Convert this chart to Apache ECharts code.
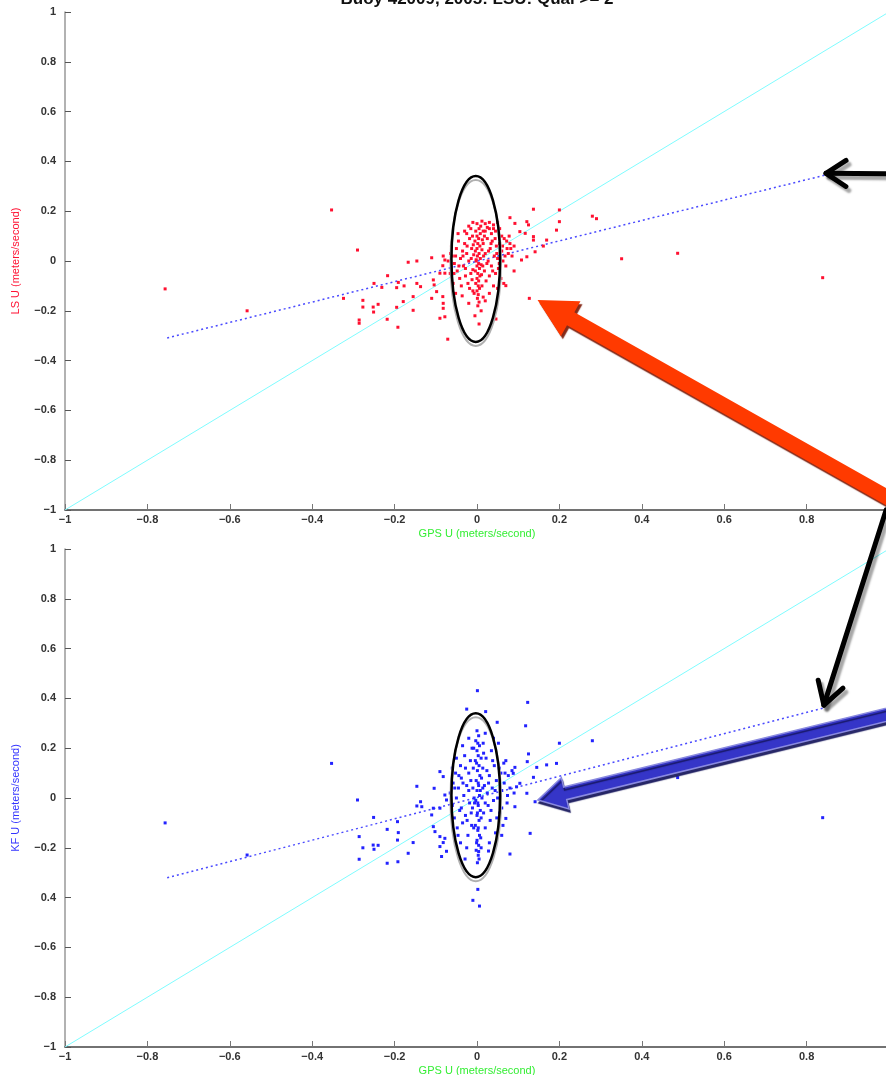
<!DOCTYPE html>
<html>
<head>
<meta charset="utf-8">
<script src="https://cdn.jsdelivr.net/npm/echarts@6/dist/echarts.min.js"></script>
<style>
  html, body { margin: 0; padding: 0; background: #fff; }
  #chart { width: 886px; height: 1075px; }
</style>
</head>
<body>
<div id="chart"></div>
<script>
// titles / labels
var titleText = 'Buoy 42009, 2005: LSU: Qual >= 2';
var xName = 'GPS U (meters/second)';
var lsName = 'LS U (meters/second)';
var kfName = 'KF U (meters/second)';

// tick labels (bottom panel really shows "0.4" at -0.4)
var xTickLabels = ['\u22121', '\u22120.8', '\u22120.6', '\u22120.4', '\u22120.2', '0', '0.2', '0.4', '0.6', '0.8', '1'];
var lsTickLabels = ['\u22121', '\u22120.8', '\u22120.6', '\u22120.4', '\u22120.2', '0', '0.2', '0.4', '0.6', '0.8', '1'];
var kfTickLabels = ['\u22121', '\u22120.8', '\u22120.6', '0.4', '\u22120.2', '0', '0.2', '0.4', '0.6', '0.8', '1'];

// reference line y = x and fitted lines
var unityLine = [[-1, -1], [1, 1]];
var lsFit = [[-0.752, -0.309], [0.845, 0.345]];
var kfFit = [[-0.752, -0.32], [0.842, 0.362]];

// LS points, scattered part
var lsOutliers = [
  [-0.757,-0.112],[-0.558,-0.2],[-0.353,0.205],[-0.29,0.044],[-0.324,-0.15],[-0.277,-0.158],[-0.277,-0.185],
  [-0.252,-0.185],[-0.24,-0.174],[-0.251,-0.205],[-0.286,-0.237],[-0.286,-0.25],[-0.25,-0.09],[-0.231,-0.106],
  [-0.217,-0.059],[-0.218,-0.234],[-0.192,-0.266],[-0.195,-0.186],[-0.191,-0.086],[-0.195,-0.107],[-0.179,-0.163],
  [-0.177,-0.1],[-0.167,-0.005],[-0.155,-0.143],[-0.155,-0.198],[-0.146,0],[-0.146,-0.09],[-0.137,-0.103],
  [-0.11,0.013],[-0.106,-0.076],[-0.104,-0.096],[-0.11,-0.15],[-0.098,-0.123],[-0.083,-0.143],[-0.082,-0.17],
  [-0.082,-0.19],[-0.09,-0.23],[-0.078,-0.224],[-0.082,0.02],[-0.078,0.004],[-0.083,-0.019],[-0.078,-0.049],
  [-0.09,-0.049],[-0.071,-0.314],[0.005,-0.253],[0.046,-0.233],[0.127,-0.15],[0.07,-0.099],[0.09,-0.04],
  [0.137,0.208],[0.08,0.174],[0.092,0.151],[0.121,0.158],[0.125,0.145],[0.104,0.118],[0.117,0.111],
  [0.137,0.098],[0.137,0.084],[0.141,0.037],[0.121,0.017],[0.108,0.004],[0.161,0.06],[0.169,0.084],
  [0.193,0.124],[0.2,0.158],[0.2,0.205],[0.28,0.18],[0.29,0.17],[0.351,0.009],[0.487,0.031],[0.839,-0.067]
];
// LS points, dense core near zero
var lsCore = [
  [0,0.15],[0.005,0.13],[-0.003,0.12],[0.008,0.11],[0,0.1],[0.004,0.09],[-0.005,0.08],[0.002,0.07],
  [0.007,0.06],[0,0.05],[-0.004,0.04],[0.005,0.03],[0.001,0.02],[0.008,0.01],[-0.002,0],[0.004,-0.01],
  [0,-0.02],[0.006,-0.03],[-0.004,-0.04],[0.002,-0.05],[0.007,-0.06],[0,-0.07],[0.004,-0.08],[-0.003,-0.09],
  [0.003,-0.1],[0.006,-0.11],[0,-0.12],[0.003,-0.135],[0.001,-0.15],[0.005,-0.165],[0.002,-0.18],[-0.002,0.005],
  [0.01,-0.015],[-0.008,0.025],[0.012,0.045],[-0.01,-0.035],[0.011,-0.055],[-0.009,0.065],[0.013,0.085],[-0.012,-0.075],
  [-0.01,0.155],[0.012,0.16],[0.02,0.15],[0.03,0.155],[0.04,0.145],[0.05,0.155],[0.025,0.135],[0.045,0.12],
  [0.055,0.13],[-0.02,0.14],[0.035,0.11],[0.06,0.1],[-0.025,0.11],
  [-0.06,0.02],[-0.055,-0.01],[-0.05,0.05],[-0.048,-0.04],[-0.045,0.08],[-0.042,-0.07],[-0.04,0.01],[-0.038,-0.1],
  [-0.035,0.04],[-0.033,-0.02],[-0.03,0.07],[-0.028,-0.06],[-0.025,0.03],[-0.022,-0.09],[-0.02,0],[-0.018,0.09],
  [-0.015,-0.05],[-0.013,0.05],[-0.01,-0.12],[0.015,0.07],[0.018,-0.04],[0.02,0.03],[0.022,-0.08],[0.025,0.09],
  [0.027,0],[0.03,-0.06],[0.032,0.05],[0.035,-0.02],[0.037,0.08],[0.04,-0.1],[0.042,0.02],[0.045,-0.05],
  [0.047,0.06],[0.05,0.01],[0.052,-0.03],[0.055,0.07],[0.058,-0.07],[0.06,0.04],[0.063,0],[0.066,0.09],
  [0.07,-0.02],[0.073,0.05],[0.076,0.03],[0.08,0.07],[0.085,0.02],[0.09,0.06],[-0.065,-0.05],[-0.07,0],
  [-0.062,0.06],[-0.058,-0.09],[-0.052,-0.13],[-0.046,0.11],[-0.036,-0.14],[-0.03,0.12],[0.03,-0.13],[0.05,-0.11],
  [0.065,-0.09],[0.02,-0.16],[-0.02,-0.17],[0.01,-0.2],[-0.005,-0.22],[0.015,0.12],[-0.015,0.13],
  [0.016,0.02],[0.014,-0.02],[-0.014,0.01],[0.018,0.1],[-0.018,-0.11],[0.024,-0.01],[-0.024,0.06],[0.028,0.04],
  [-0.028,-0.03],[0.034,0.07],[-0.034,0.02],[0.038,-0.04],[0.044,0.09],[-0.044,-0.02],[0.048,0.03],[0.054,-0.01],
  [0.062,0.06],[0.068,0.02],[0.072,0.08],[0.078,0.1],[0.082,0.05],[-0.052,0.02],[-0.056,-0.05],[-0.064,0.03],
  [0.009,0.14],[-0.007,-0.13],[0.012,-0.1],[-0.011,0.1],[0.015,-0.145],[0.02,0.12],[0.03,0.13],[0.04,0.13]
];

// KF points, scattered part
var kfOutliers = [
  [-0.757,-0.1],[-0.558,-0.229],[-0.353,0.139],[-0.29,-0.008],[-0.251,-0.078],[-0.286,-0.155],[-0.277,-0.2],
  [-0.286,-0.246],[-0.252,-0.189],[-0.24,-0.19],[-0.25,-0.206],[-0.218,-0.262],[-0.192,-0.256],[-0.218,-0.126],
  [-0.191,-0.139],[-0.193,-0.169],[-0.167,-0.222],[-0.155,-0.179],[-0.193,-0.095],[-0.146,0.047],[-0.137,-0.015],
  [-0.134,-0.035],[-0.146,-0.032],[-0.104,0.039],[-0.106,-0.041],[-0.11,-0.068],[-0.106,-0.115],[-0.102,-0.135],
  [-0.09,-0.195],[-0.086,-0.235],[-0.074,-0.214],[-0.082,-0.179],[-0.078,-0.162],[-0.09,-0.155],[-0.09,0.106],
  [-0.082,0.086],[-0.078,0.012],[-0.074,-0.008],[-0.09,-0.041],[0.001,0.431],[-0.025,0.357],[0.021,0.347],
  [0.049,0.304],[0.123,0.384],[0.118,0.29],[0.002,-0.367],[-0.01,-0.411],[0.006,-0.434],[-0.029,-0.245],
  [0.005,-0.245],[0.028,-0.213],[0.08,-0.225],[0.129,-0.142],[0.07,-0.082],[0.125,0.177],[0.122,0.146],
  [0.137,0.083],[0.145,0.123],[0.169,0.133],[0.193,0.139],[0.2,0.22],[0.092,0.123],[0.088,0.099],
  [0.096,0.045],[0.121,0.019],[0.141,-0.015],[0.092,-0.035],[0.104,0.059],[0.28,0.23],[0.487,0.082],[0.839,-0.079]
];
// KF points, dense core near zero
var kfCore = [
  [0,0.27],[0.004,0.25],[-0.003,0.23],[0.006,0.21],[0,0.19],[0.003,0.17],[-0.004,0.15],[0.005,0.13],
  [0.001,0.11],[0.007,0.09],[-0.002,0.07],[0.004,0.05],[0,0.03],[0.006,0.01],[-0.003,-0.01],[0.003,-0.03],
  [0.008,-0.05],[0,-0.07],[0.005,-0.09],[-0.004,-0.11],[0.002,-0.13],[0.006,-0.15],[0,-0.17],[0.004,-0.19],
  [-0.002,-0.21],[0.003,-0.23],[0.001,-0.26],[-0.008,0.2],[0.01,0.16],[-0.009,0.12],[0.011,0.08],[-0.01,0.04],
  [0.012,0],[-0.011,-0.04],[0.01,-0.08],[-0.008,-0.12],[0.009,-0.16],[-0.007,0],[0.008,0.03],[-0.006,-0.02],
  [-0.065,0.02],[-0.06,-0.03],[-0.058,0.06],[-0.055,-0.08],[-0.052,0.1],[-0.05,0],[-0.048,-0.12],[-0.045,0.04],
  [-0.042,-0.05],[-0.04,0.13],[-0.038,0.08],[-0.035,-0.1],[-0.032,0.01],[-0.03,0.17],[-0.028,-0.07],[-0.025,0.05],
  [-0.022,-0.15],[-0.02,0.1],[-0.018,-0.02],[-0.015,0.07],[-0.013,-0.11],[-0.012,0.2],[0.014,0.12],[0.016,-0.06],
  [0.018,0.05],[0.02,-0.12],[0.022,0.16],[0.025,0.02],[0.027,-0.03],[0.03,0.09],[0.032,-0.09],[0.035,0.19],
  [0.037,0.04],[0.04,-0.01],[0.042,0.13],[0.045,-0.14],[0.047,0.07],[0.05,0],[0.052,0.22],[0.055,-0.06],
  [0.058,0.1],[0.06,0.03],[0.063,-0.11],[0.066,0.06],[0.07,0.15],[0.073,-0.02],[0.076,0.09],[0.08,0.04],
  [0.085,0.11],[0.09,0.02],[-0.04,-0.18],[0.03,-0.18],[-0.02,0.24],[0.02,0.26],[0.04,0.24],[-0.05,0.16],
  [0.06,-0.15],[-0.06,0.12],[0.065,0.14],[-0.035,0.21],[0.015,0.22],[-0.025,-0.2],[0.01,-0.2],
  [0.002,0.22],[-0.001,0.14],[0.003,0.06],[0.002,-0.02],[0.001,-0.06],[0.003,-0.12],[-0.001,-0.18],[0.004,-0.215],
  [0.014,0.04],[-0.014,-0.06],[0.016,0.18],[-0.016,0.15],[0.02,-0.02],[-0.02,0.03],[0.024,0.11],[-0.024,-0.09],
  [0.028,0.06],[-0.028,0.12],[0.034,-0.05],[-0.034,0.06],[0.038,0.15],[-0.038,-0.04],[0.044,0.03],[-0.044,0.09],
  [0.048,-0.08],[0.054,0.12],[-0.054,0.04],[0.06,-0.04],[0.068,0.1],[0.074,0.01],[-0.062,-0.07],[-0.046,-0.15]
];

// hand-drawn annotations in data units: ellipse [cx, cy, rx, ry], arrows [tip, tail]
var lsEllipse = [-0.003, 0.008, 0.059, 0.333];
var kfEllipse = [-0.003, 0.011, 0.059, 0.329];
var blackArrowTop = [[0.847, 0.352], [1.04, 0.35]];
var redArrow = [[0.147, -0.157], [1.04, -0.99]];
var blackArrowBottom = [[0.842, 0.373], [0.993, 1.157]];
var blueArrow = [[0.148, -0.008], [1.04, 0.353]];

var myChart = echarts.init(document.getElementById('chart'));
var font = 'Liberation Sans, Arial, sans-serif';

function xAxisFor(idx) {
  return {
    type: 'value', gridIndex: idx, min: -1, max: 1, interval: 0.2,
    name: xName, nameLocation: 'middle', nameGap: 18,
    nameTextStyle: { color: '#33ee33', fontSize: 11, fontFamily: font },
    axisLine: { show: true, onZero: false, lineStyle: { color: '#444', width: 1.5 } },
    axisTick: { show: true, inside: true, length: 6, lineStyle: { color: '#777' } },
    axisLabel: {
      color: '#333', fontSize: 11, fontWeight: 'bold', fontFamily: font, margin: 4,
      formatter: function (v) { return xTickLabels[Math.round((v + 1) / 0.2)]; }
    },
    splitLine: { show: false }
  };
}
function yAxisFor(idx, name, nameColor, labels) {
  return {
    type: 'value', gridIndex: idx, min: -1, max: 1, interval: 0.2,
    name: name, nameLocation: 'middle', nameGap: 44, nameRotate: 90,
    nameTextStyle: { color: nameColor, fontSize: 11, fontFamily: font },
    axisLine: { show: true, onZero: false, lineStyle: { color: '#999', width: 1.5 } },
    axisTick: { show: true, inside: true, length: 6, lineStyle: { color: '#555' } },
    axisLabel: {
      color: '#333', fontSize: 11, fontWeight: 'bold', fontFamily: font, margin: 9,
      formatter: function (v) { return labels[Math.round((v + 1) / 0.2)]; }
    },
    splitLine: { show: false }
  };
}
function pts(idx, data, color) {
  return {
    type: 'scatter', xAxisIndex: idx, yAxisIndex: idx, data: data,
    symbol: 'rect', symbolSize: 3, itemStyle: { color: color, opacity: 1 }, silent: true, z: 3
  };
}
function line(idx, data, color, type, width) {
  return {
    type: 'line', xAxisIndex: idx, yAxisIndex: idx, data: data, symbol: 'none',
    lineStyle: { color: color, type: type, width: width }, silent: true, z: 2
  };
}

myChart.setOption({
  animation: false,
  backgroundColor: '#fff',
  grid: [
    { left: 65, top: 12, width: 824, height: 498, outerBoundsMode: 'none', containLabel: false },
    { left: 65, top: 549, width: 824, height: 498, outerBoundsMode: 'none', containLabel: false }
  ],
  xAxis: [xAxisFor(0), xAxisFor(1)],
  yAxis: [yAxisFor(0, lsName, '#ff1133', lsTickLabels), yAxisFor(1, kfName, '#3333ff', kfTickLabels)],
  series: [
    line(0, unityLine, '#7ffcff', 'solid', 1),
    line(0, lsFit, '#4a4aff', [2, 3], 1.5),
    pts(0, lsOutliers, '#ff1030'),
    pts(0, lsCore, '#ff1030'),
    line(1, unityLine, '#7ffcff', 'solid', 1),
    line(1, kfFit, '#4a4aff', [2, 3], 1.5),
    pts(1, kfOutliers, '#2222ff'),
    pts(1, kfCore, '#2222ff')
  ]
});

function px(idx, p) { return myChart.convertToPixel({ gridIndex: idx }, p); }

function filledArrow(tip, tail, shaftW, headL, headW) {
  var dx = tail[0] - tip[0], dy = tail[1] - tip[1];
  var len = Math.sqrt(dx * dx + dy * dy);
  var ux = dx / len, uy = dy / len, nx = -uy, ny = ux;
  var bx = tip[0] + ux * headL, by = tip[1] + uy * headL;
  return [
    tip,
    [bx + nx * headW / 2, by + ny * headW / 2],
    [bx + nx * shaftW / 2, by + ny * shaftW / 2],
    [tail[0] + nx * shaftW / 2, tail[1] + ny * shaftW / 2],
    [tail[0] - nx * shaftW / 2, tail[1] - ny * shaftW / 2],
    [bx - nx * shaftW / 2, by - ny * shaftW / 2],
    [bx - nx * headW / 2, by - ny * headW / 2]
  ];
}
function openArrow(tip, tail, headL, headW) {
  var dx = tail[0] - tip[0], dy = tail[1] - tip[1];
  var len = Math.sqrt(dx * dx + dy * dy);
  var ux = dx / len, uy = dy / len, nx = -uy, ny = ux;
  var bx = tip[0] + ux * headL, by = tip[1] + uy * headL;
  var style = {
    stroke: '#000', lineWidth: 5, lineCap: 'round', lineJoin: 'round', fill: null,
    shadowColor: 'rgba(0,0,0,0.35)', shadowOffsetX: 3, shadowOffsetY: 4, shadowBlur: 2
  };
  return [
    { type: 'polyline', z: 100, shape: { points: [tip, tail] }, style: style },
    { type: 'polyline', z: 100, shape: { points: [[bx + nx * headW / 2, by + ny * headW / 2], tip, [bx - nx * headW / 2, by - ny * headW / 2]] }, style: style }
  ];
}
function ellipse(idx, e) {
  var c = px(idx, [e[0], e[1]]);
  var edge = px(idx, [e[0] + e[2], e[1] + e[3]]);
  var rx = Math.abs(edge[0] - c[0]), ry = Math.abs(edge[1] - c[1]);
  return [
    { type: 'ellipse', z: 90, shape: { cx: c[0], cy: c[1] + 4, rx: rx + 1, ry: ry }, style: { fill: null, stroke: '#b0b0b0', lineWidth: 2 } },
    { type: 'ellipse', z: 91, shape: { cx: c[0], cy: c[1], rx: rx, ry: ry }, style: { fill: null, stroke: '#000', lineWidth: 2.5 } }
  ];
}

var titlePos = px(0, [0, 1]);
var g = [
  { type: 'text', z: 100, x: titlePos[0], y: titlePos[1] - 4,
    style: { text: titleText, fill: '#111', font: 'bold 17px ' + font, textAlign: 'center', textVerticalAlign: 'bottom' } }
];
g = g.concat(ellipse(0, lsEllipse), ellipse(1, kfEllipse));
g.push({
  type: 'polygon', z: 100,
  shape: { points: filledArrow(px(0, redArrow[0]), px(0, redArrow[1]), 15, 38, 40) },
  style: { fill: '#ff3a00', shadowColor: 'rgba(120,20,0,0.9)', shadowOffsetX: 2, shadowOffsetY: 3, shadowBlur: 1 }
});
g.push({
  type: 'polygon', z: 100,
  shape: { points: filledArrow(px(1, blueArrow[0]), px(1, blueArrow[1]), 13, 28, 32) },
  style: { fill: '#3535c8', stroke: '#8a8ae0', lineWidth: 1.5, shadowColor: 'rgba(20,20,90,0.9)', shadowOffsetX: 1, shadowOffsetY: 3, shadowBlur: 1 }
});
g = g.concat(openArrow(px(0, blackArrowTop[0]), px(0, blackArrowTop[1]), 20, 26));
g = g.concat(openArrow(px(1, blackArrowBottom[0]), px(1, blackArrowBottom[1]), 22, 26));

myChart.setOption({ graphic: g });
window.onresize = myChart.resize;
</script>
</body>
</html>
